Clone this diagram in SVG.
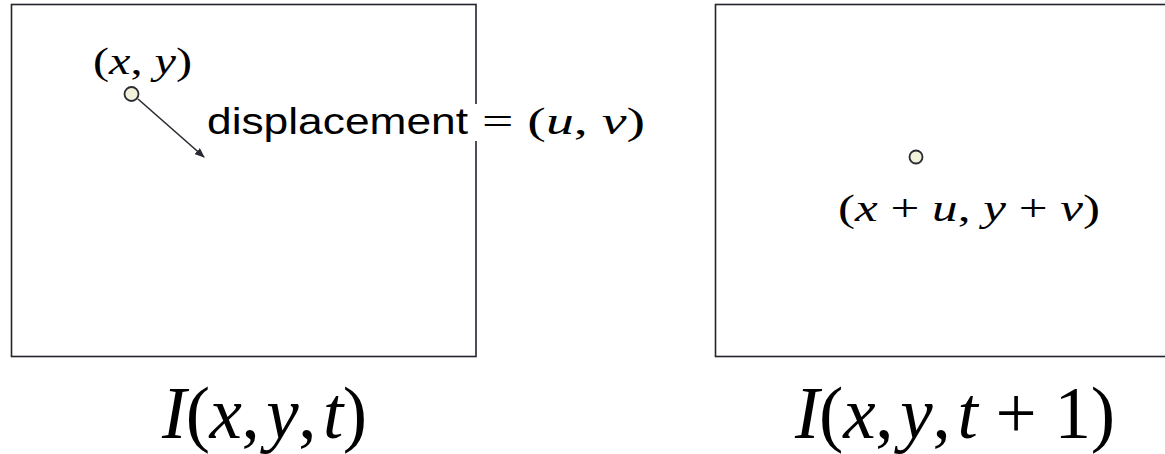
<svg xmlns="http://www.w3.org/2000/svg" width="1165" height="454" viewBox="0 0 1165 454">
<style>
.frame{fill:none;stroke:#24232d;stroke-width:1.6}
.pt{fill:#f2f2dc;stroke:#2a2a33;stroke-width:1.8}
.math{font-family:"Liberation Serif",serif;fill:#000}
.mi{font-style:italic}
.big{font-family:"Liberation Serif",serif;font-size:73px;fill:#000}
.sans{font-family:"Liberation Sans",sans-serif;fill:#000}
</style>
<defs>
<marker id="ah" markerWidth="10" markerHeight="8" refX="9" refY="4" orient="auto" markerUnits="userSpaceOnUse">
<path d="M0,0 L10,4 L0,8 Z" fill="#2a2a33"/>
</marker>
</defs>
<g id="frame-t">
<rect class="frame" x="11.5" y="4.5" width="464.5" height="352"/>
</g>
<g id="frame-t1">
<rect class="frame" x="715.5" y="4.5" width="470" height="352"/>
</g>
<g id="connectors">
<line x1="138" y1="99" x2="204" y2="157" stroke="#2a2a33" stroke-width="1.6" marker-end="url(#ah)"/>
</g>
<g id="point-xy">
<text class="math" x="93" y="74" font-size="38" textLength="99" lengthAdjust="spacingAndGlyphs">(<tspan class="mi">x</tspan>, <tspan class="mi">y</tspan>)</text>
<circle class="pt" cx="131.5" cy="94" r="7"/>
</g>
<g id="displacement-label">
<rect x="206" y="104" width="441" height="37" fill="#fff"/>
<text class="sans" x="207" y="134" font-size="37" textLength="261" lengthAdjust="spacingAndGlyphs">displacement</text>
<text class="math" x="482" y="134" font-size="38" textLength="163" lengthAdjust="spacingAndGlyphs">= (<tspan class="mi">u</tspan>, <tspan class="mi">v</tspan>)</text>
</g>
<g id="point-moved">
<circle class="pt" cx="916" cy="157" r="6.5"/>
<text class="math" x="838" y="221" font-size="38" textLength="262" lengthAdjust="spacingAndGlyphs">(<tspan class="mi">x</tspan> + <tspan class="mi">u</tspan>, <tspan class="mi">y</tspan> + <tspan class="mi">v</tspan>)</text>
</g>
<g id="label-t">
<text class="big" x="162" y="438" textLength="205" lengthAdjust="spacing"><tspan class="mi">I</tspan>(<tspan class="mi">x</tspan>,<tspan class="mi" dx="7">y</tspan>,<tspan class="mi" dx="7">t</tspan>)</text>
</g>
<g id="label-t1">
<text class="big" x="795" y="438" textLength="320" lengthAdjust="spacing"><tspan class="mi">I</tspan>(<tspan class="mi">x</tspan>,<tspan class="mi" dx="7">y</tspan>,<tspan class="mi" dx="7">t</tspan> + 1)</text>
</g>
</svg>
